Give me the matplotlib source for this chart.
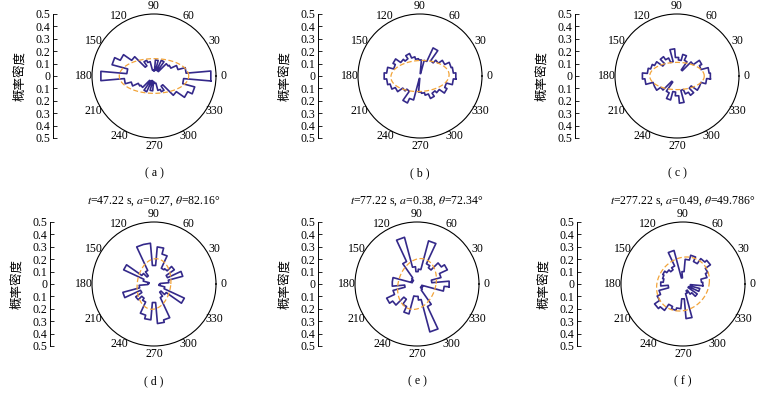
import numpy as np
import matplotlib
matplotlib.use('Agg')
import matplotlib.pyplot as plt

plt.rcParams['font.family'] = ['Liberation Serif', 'Noto Sans CJK SC']
plt.rcParams['mathtext.fontset'] = 'stix'

# bin centres (deg), 10 deg wide
bins = np.arange(0, 360, 10)

# probability density per bin
dens_a = [0.46, 0.26, 0.20, 0.15, 0.14, 0.05, 0.14, 0.05, 0.13, 0.04, 0.05, 0.12,
          0.14, 0.10, 0.22, 0.30, 0.35, 0.22, 0.43, 0.24, 0.19, 0.14, 0.13, 0.05,
          0.14, 0.04, 0.12, 0.05, 0.06, 0.12, 0.14, 0.10, 0.22, 0.30, 0.34, 0.24]
dens_b = [0.29, 0.27, 0.26, 0.22, 0.18, 0.15, 0.25, 0.13, 0.02, 0.13, 0.14, 0.16,
          0.20, 0.17, 0.19, 0.24, 0.22, 0.27, 0.29, 0.27, 0.25, 0.22, 0.17, 0.15,
          0.24, 0.20, 0.02, 0.13, 0.14, 0.16, 0.20, 0.17, 0.19, 0.24, 0.22, 0.27]
dens_c = [0.27, 0.26, 0.20, 0.22, 0.16, 0.06, 0.14, 0.18, 0.13, 0.15, 0.22, 0.12,
          0.16, 0.19, 0.14, 0.20, 0.22, 0.24, 0.28, 0.26, 0.20, 0.20, 0.16, 0.06,
          0.15, 0.20, 0.13, 0.16, 0.22, 0.12, 0.16, 0.19, 0.14, 0.20, 0.20, 0.24]
dens_d = [0.05, 0.12, 0.24, 0.12, 0.20, 0.15, 0.14, 0.25, 0.30, 0.15, 0.33, 0.33,
          0.12, 0.08, 0.12, 0.27, 0.09, 0.04, 0.05, 0.12, 0.26, 0.12, 0.18, 0.14,
          0.16, 0.26, 0.29, 0.15, 0.32, 0.30, 0.12, 0.08, 0.12, 0.27, 0.09, 0.04]
dens_e = [0.26, 0.12, 0.20, 0.27, 0.24, 0.16, 0.18, 0.36, 0.12, 0.10, 0.14, 0.39,
          0.20, 0.06, 0.04, 0.05, 0.04, 0.20, 0.20, 0.10, 0.20, 0.27, 0.24, 0.15,
          0.20, 0.25, 0.10, 0.10, 0.13, 0.40, 0.20, 0.06, 0.04, 0.05, 0.04, 0.22]
dens_f = [0.16, 0.15, 0.20, 0.22, 0.27, 0.25, 0.20, 0.24, 0.20, 0.10, 0.05, 0.28,
          0.16, 0.14, 0.16, 0.18, 0.17, 0.16, 0.18, 0.12, 0.20, 0.23, 0.28, 0.26,
          0.20, 0.22, 0.20, 0.12, 0.28, 0.08, 0.06, 0.10, 0.14, 0.05, 0.14, 0.06]
all_dens = [dens_a, dens_b, dens_c, dens_d, dens_e, dens_f]

# fitted ellipse: semi-major, semi-minor, orientation (deg)
ell_major = [0.28, 0.235, 0.22, 0.205, 0.21, 0.23]
ell_minor = [0.14, 0.125, 0.11, 0.135, 0.15, 0.20]
ell_angle = [0, 3, 0, 82.16, 72.34, 49.786]

letters = ['a', 'b', 'c', 'd', 'e', 'f']
titles = ['', '', '',
          r'$t$=47.22 s, $a$=0.27, $\theta$=82.16°',
          r'$t$=77.22 s, $a$=0.38, $\theta$=72.34°',
          r'$t$=277.22 s, $a$=0.49, $\theta$=49.786°']

W, H = 773, 399
centres = [(154, 76), (420, 76), (677, 76), (154, 284), (417, 284), (683, 284)]
spine_x = [53, 318, 575, 50, 318, 577]
R = 62

line_col = '#34298a'
fit_col = '#f2a43a'

fig = plt.figure(figsize=(W / 100, H / 100), dpi=100)

for i in range(6):
    cx, cy = centres[i]
    pax = fig.add_axes([(cx - R) / W, 1 - (cy + R) / H, 2 * R / W, 2 * R / H],
                       projection='polar')
    pax.set_ylim(0, 0.5)
    pax.set_yticks([])
    pax.set_xticks(np.deg2rad(np.arange(0, 360, 30)))
    pax.set_xticklabels([str(d) for d in range(0, 360, 30)])
    pax.grid(False)
    pax.tick_params(axis='x', direction='in', length=3, width=0.6, pad=-1.5, labelsize=8.5)
    pax.spines['polar'].set_linewidth(0.8)

    # stairs outline of the rose histogram
    d = np.array(all_dens[i])
    th = np.deg2rad(np.column_stack([bins - 5, bins + 5]).ravel())
    rr = np.repeat(d, 2)
    th = np.append(th, th[0])
    rr = np.append(rr, rr[0])
    pax.plot(th, rr, color=line_col, lw=1.2)

    # fitted ellipse
    t = np.linspace(0, 2 * np.pi, 361)
    a, b, phi = ell_major[i], ell_minor[i], np.deg2rad(ell_angle[i])
    re = a * b / np.sqrt((b * np.cos(t - phi)) ** 2 + (a * np.sin(t - phi)) ** 2)
    pax.plot(t, re, color=fit_col, lw=0.9, ls=(0, (4, 2)))

    # linear density scale on the left
    sx = spine_x[i]
    yax = fig.add_axes([sx / W, 1 - (cy + R) / H, 0.001, 2 * R / H])
    yax.set_ylim(-0.5, 0.5)
    yax.set_xticks([])
    for s in ['top', 'right', 'bottom']:
        yax.spines[s].set_visible(False)
    yax.spines['left'].set_linewidth(0.7)
    ticks = np.round(np.linspace(-0.5, 0.5, 11), 1)
    yax.set_yticks(ticks)
    yax.set_yticklabels(['0' if v == 0 else f'{abs(v):.1f}' for v in ticks])
    yax.tick_params(axis='y', direction='in', length=3, width=0.6, pad=2, labelsize=8.5)
    fig.text((sx - 33) / W, 1 - cy / H, '概率密度', rotation=90, ha='center', va='center',
             fontsize=9, family=['Noto Sans CJK SC'])

    fig.text(cx / W, 1 - (cy + 97) / H, f'( {letters[i]} )', ha='center', va='center',
             fontsize=8.5)
    if titles[i]:
        fig.text(cx / W, 1 - (cy - 83) / H, titles[i], ha='center', va='center', fontsize=8.5)

fig.savefig('out.png', dpi=100)
